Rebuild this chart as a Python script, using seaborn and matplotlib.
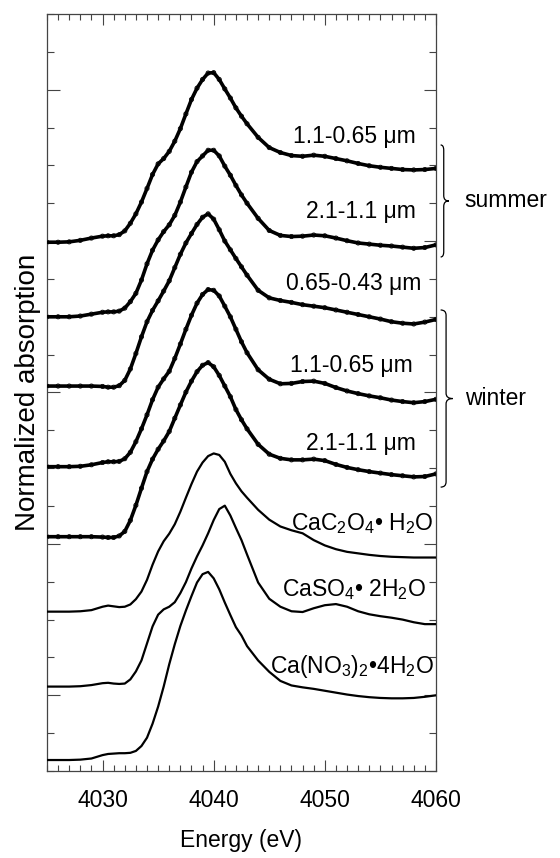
import matplotlib
matplotlib.use('Agg')
import matplotlib.pyplot as plt
import matplotlib.transforms as mtransforms
from matplotlib.path import Path
from matplotlib.patches import PathPatch
from matplotlib.ticker import MultipleLocator
import seaborn as sns

# energy grid (eV)
energy = [4025, 4026, 4027, 4028, 4029, 4030,
          4030.5, 4031, 4031.5, 4032, 4032.5, 4033, 4033.5, 4034, 4034.5, 4035,
          4035.5, 4036, 4036.5, 4037, 4037.5, 4038, 4038.5, 4039, 4039.5, 4040,
          4040.5, 4041, 4041.5, 4042, 4042.5, 4043,
          4044, 4045, 4046, 4047, 4048, 4049, 4050, 4051, 4052, 4053, 4054,
          4055, 4056, 4057, 4058, 4059, 4060]

# stacked spectra (already offset as in the figure)
summer_11_065 = [13.97, 13.97, 13.98, 14.02, 14.08, 14.13,
                 14.14, 14.14, 14.17, 14.27, 14.47, 14.72, 15.03, 15.39, 15.76, 16.04,
                 16.18, 16.37, 16.64, 16.97, 17.36, 17.74, 18.04, 18.27, 18.44, 18.45,
                 18.27, 18.02, 17.78, 17.52, 17.30, 17.10,
                 16.74, 16.47, 16.34, 16.26, 16.24, 16.27, 16.24, 16.18, 16.12, 16.05, 15.99,
                 15.95, 15.92, 15.89, 15.88, 15.89, 15.92]
summer_21_11 = [12.00, 12.00, 12.00, 12.02, 12.07, 12.12,
                12.13, 12.13, 12.15, 12.23, 12.40, 12.62, 12.97, 13.40, 13.76, 14.03,
                14.25, 14.43, 14.68, 15.03, 15.43, 15.82, 16.10, 16.25, 16.40, 16.40,
                16.25, 15.98, 15.74, 15.47, 15.22, 15.00,
                14.60, 14.28, 14.15, 14.12, 14.13, 14.16, 14.14, 14.08, 14.01, 13.95, 13.92,
                13.89, 13.87, 13.84, 13.81, 13.83, 13.90]
summer_065_043 = [10.17, 10.17, 10.17, 10.17, 10.17, 10.16,
                  10.14, 10.14, 10.18, 10.32, 10.62, 11.03, 11.47, 11.87, 12.17, 12.42,
                  12.68, 12.95, 13.30, 13.65, 13.95, 14.20, 14.44, 14.63, 14.72, 14.58,
                  14.30, 14.00, 13.77, 13.54, 13.32, 13.10,
                  12.70, 12.50, 12.43, 12.38, 12.32, 12.28, 12.24, 12.18, 12.12, 12.06, 12.00,
                  11.94, 11.87, 11.83, 11.81, 11.86, 11.93]
winter_11_065 = [8.04, 8.04, 8.04, 8.05, 8.09, 8.15,
                 8.17, 8.17, 8.18, 8.25, 8.42, 8.70, 9.04, 9.41, 9.81, 10.14,
                 10.36, 10.56, 10.90, 11.28, 11.67, 12.04, 12.36, 12.59, 12.72, 12.70,
                 12.55, 12.28, 12.00, 11.67, 11.34, 11.05,
                 10.60, 10.35, 10.23, 10.24, 10.29, 10.30, 10.24, 10.13, 10.04, 9.97, 9.91,
                 9.86, 9.80, 9.76, 9.73, 9.76, 9.82]
winter_21_11 = [6.19, 6.19, 6.19, 6.19, 6.19, 6.18,
                6.17, 6.17, 6.21, 6.33, 6.62, 7.02, 7.47, 7.91, 8.24, 8.50,
                8.72, 8.97, 9.32, 9.67, 10.01, 10.30, 10.55, 10.72, 10.79, 10.68,
                10.45, 10.17, 9.89, 9.55, 9.28, 9.04,
                8.63, 8.37, 8.26, 8.22, 8.22, 8.24, 8.20, 8.10, 8.02, 7.96, 7.91,
                7.87, 7.83, 7.80, 7.77, 7.78, 7.85]
ca_oxalate = [4.21, 4.21, 4.21, 4.22, 4.25, 4.34,
              4.37, 4.35, 4.33, 4.34, 4.40, 4.54, 4.74, 5.05, 5.45, 5.80,
              6.07, 6.27, 6.52, 6.85, 7.22, 7.58, 7.91, 8.15, 8.32, 8.39,
              8.35, 8.17, 7.85, 7.60, 7.39, 7.22,
              6.90, 6.64, 6.46, 6.36, 6.28, 6.10, 5.96, 5.86, 5.79, 5.75, 5.71,
              5.68, 5.66, 5.65, 5.64, 5.64, 5.64]
ca_sulfate = [2.23, 2.23, 2.23, 2.24, 2.27, 2.32,
              2.33, 2.31, 2.30, 2.31, 2.42, 2.63, 2.92, 3.37, 3.82, 4.13,
              4.27, 4.34, 4.46, 4.70, 4.99, 5.35, 5.67, 5.96, 6.28, 6.63,
              6.92, 7.01, 6.75, 6.42, 6.10, 5.72,
              4.98, 4.55, 4.34, 4.22, 4.20, 4.30, 4.38, 4.41, 4.34, 4.22, 4.14,
              4.09, 4.05, 4.00, 3.93, 3.88, 3.88]
ca_nitrate = [0.29, 0.29, 0.29, 0.30, 0.33, 0.42,
              0.45, 0.46, 0.47, 0.47, 0.48, 0.53, 0.66, 0.88, 1.25, 1.70,
              2.23, 2.82, 3.35, 3.83, 4.24, 4.62, 4.98, 5.20, 5.26, 5.09,
              4.80, 4.45, 4.12, 3.80, 3.58, 3.30,
              2.92, 2.62, 2.38, 2.26, 2.21, 2.17, 2.12, 2.07, 2.02, 1.98, 1.95,
              1.93, 1.92, 1.92, 1.93, 1.96, 2.00]

samples = [summer_11_065, summer_21_11, summer_065_043, winter_11_065, winter_21_11]
references = [ca_oxalate, ca_sulfate, ca_nitrate]

labels = ['1.1-0.65 \u03bcm', '2.1-1.1 \u03bcm', '0.65-0.43 \u03bcm',
          '1.1-0.65 \u03bcm', '2.1-1.1 \u03bcm',
          'CaC$_2$O$_4$\u2022 H$_2$O', 'CaSO$_4$\u2022 2H$_2$O',
          'Ca(NO$_3$)$_2$\u20224H$_2$O']

sns.set_style('ticks')
plt.rcParams['font.family'] = ['Liberation Sans', 'DejaVu Sans']
plt.rcParams['mathtext.fontset'] = 'custom'
plt.rcParams['mathtext.rm'] = 'Liberation Sans'
plt.rcParams['mathtext.it'] = 'Liberation Sans:italic'
plt.rcParams['mathtext.bf'] = 'Liberation Sans:bold'
plt.rcParams['mathtext.default'] = 'regular'
for k in ['text.color', 'axes.labelcolor', 'xtick.color', 'ytick.color']:
    plt.rcParams[k] = 'black'

fig = plt.figure(figsize=(5.6, 8.58), dpi=100)
ax = fig.add_axes([0.0839, 0.1014, 0.6946, 0.8823])

# samples: open circles + fitted line
for y in samples:
    sns.scatterplot(x=energy, y=y, ax=ax, marker='o', s=9, facecolor='none',
                    edgecolor='black', linewidth=0.6, zorder=2)
    sns.lineplot(x=energy, y=y, ax=ax, color='black', linewidth=2.6, zorder=3)

# reference compounds: plain line
for y in references:
    sns.lineplot(x=energy, y=y, ax=ax, color='black', linewidth=1.6, zorder=3)

# curve labels (x of right edge, y of baseline)
label_x = [4058.2, 4058.2, 4058.7, 4057.9, 4058.2, 4059.8, 4059.1, 4059.8]
label_y = [16.59, 14.61, 12.71, 10.54, 8.48, 6.37, 4.62, 2.59]
for s, lx, ly in zip(labels, label_x, label_y):
    ax.text(lx, ly, s, ha='right', va='baseline', fontsize=16.5)

ax.set_xlim(4025, 4060)
ax.set_ylim(0, 20)
ax.xaxis.set_major_locator(MultipleLocator(10))
ax.xaxis.set_minor_locator(MultipleLocator(1))
ax.yaxis.set_major_locator(MultipleLocator(4, offset=2))
ax.yaxis.set_minor_locator(MultipleLocator(1))
ax.set_yticklabels([])
ax.tick_params(which='both', direction='in', top=True, right=True,
               width=0.8, color='#444444', labelcolor='black')
ax.tick_params(axis='x', which='major', length=8, pad=13, labelsize=16.5)
ax.tick_params(axis='x', which='minor', length=4.3)
ax.tick_params(axis='y', which='major', length=9)
ax.tick_params(axis='y', which='minor', length=4.8)
for sp in ax.spines.values():
    sp.set_linewidth(0.9)
    sp.set_color('#444444')

ax.set_xlabel('Energy (eV)', fontsize=16.5, labelpad=12)
ax.set_ylabel('Normalized absorption', fontsize=20, labelpad=1)

# curly braces grouping the seasons
trans = mtransforms.blended_transform_factory(ax.transAxes, ax.transData)


def brace(y_top, y_bot, x0, x1, x2, r=0.14):
    ym = (y_top + y_bot) / 2
    verts = [(x0, y_top), (x1, y_top), (x1, y_top - r), (x1, ym + r),
             (x1, ym), (x2, ym), (x1, ym), (x1, ym - r), (x1, y_bot + r),
             (x1, y_bot), (x0, y_bot)]
    codes = [Path.MOVETO, Path.CURVE3, Path.CURVE3, Path.LINETO,
             Path.CURVE3, Path.CURVE3, Path.CURVE3, Path.CURVE3, Path.LINETO,
             Path.CURVE3, Path.CURVE3]
    ax.add_patch(PathPatch(Path(verts, codes), transform=trans, fill=False,
                           lw=0.9, color='black', clip_on=False))


brace(16.54, 13.58, 1.012, 1.020, 1.033)
brace(12.18, 7.50, 1.012, 1.026, 1.043)
ax.text(1.072, 15.06, 'summer', transform=trans, ha='left', va='center', fontsize=16.5)
ax.text(1.075, 9.85, 'winter', transform=trans, ha='left', va='center', fontsize=16.5)

fig.savefig('out.png', dpi=100)
